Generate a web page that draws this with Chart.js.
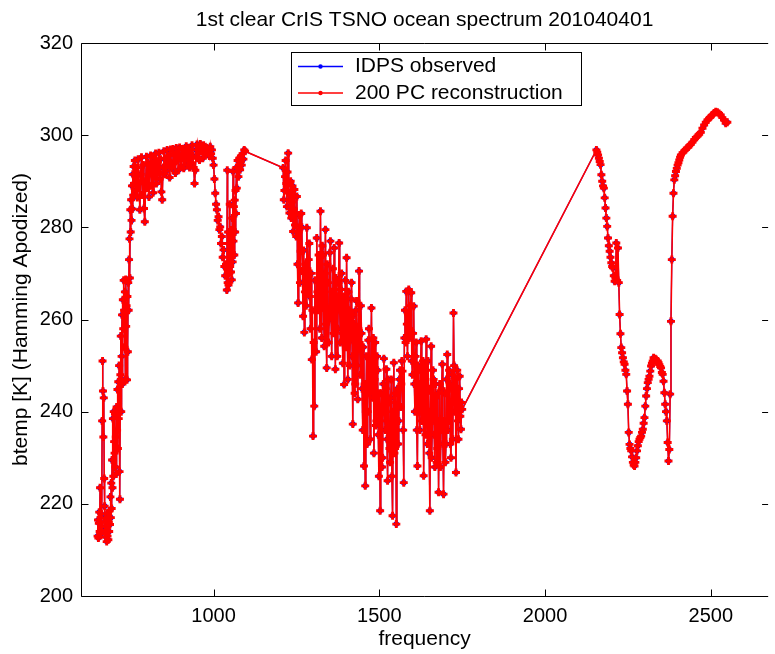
<!DOCTYPE html>
<html>
<head>
<meta charset="utf-8">
<script src="https://cdn.jsdelivr.net/npm/chart.js@4.4.0/dist/chart.umd.min.js"></script>
<style>
html, body { margin: 0; padding: 0; background: #fff; }
canvas { display: block; }
</style>
</head>
<body>
<canvas id="myCanvas" width="775" height="654"></canvas>
<script>
const CANVAS_WIDTH = 775;
const CANVAS_HEIGHT = 654;
const FONT = "'Liberation Sans', Arial, sans-serif";

// band 1 (longwave)
const band1Freq = [
  650, 651.3, 652.5, 653.8, 655, 656.3, 657.5, 658.8, 660, 661.3,
  662.5, 663.8, 665, 666.3, 667.5, 668.8, 670, 671.3, 672.5, 673.8,
  675, 676.3, 677.5, 678.8, 680, 681.3, 682.5, 683.8, 685, 686.3,
  687.5, 688.8, 690, 691.3, 692.5, 693.8, 695, 696.3, 697.5, 698.8,
  700, 701.3, 702.5, 703.8, 705, 706.3, 707.5, 708.8, 710, 711.3,
  712.5, 713.8, 715, 716.3, 717.5, 718.8, 720, 721.3, 722.5, 723.8,
  725, 726.3, 727.5, 728.8, 730, 731.3, 732.5, 733.8, 735, 736.3,
  737.5, 738.8, 740, 741.3, 742.5, 743.8, 745, 746.3, 747.5, 748.8,
  750, 751.3, 752.5, 753.8, 755, 756.3, 757.5, 758.8, 760,
  762.5, 765, 767.5, 770, 772.5, 775, 777.5, 780, 782.5, 785,
  787.5, 790, 792.5, 795, 797.5, 800, 802.5, 805, 807.5, 810,
  812.5, 815, 817.5, 820, 822.5, 825, 827.5, 830, 832.5, 835,
  837.5, 840, 842.5, 845, 847.5, 850, 852.5, 855, 857.5, 860,
  862.5, 865, 867.5, 870, 872.5, 875, 877.5, 880, 882.5, 885,
  887.5, 890, 892.5, 895, 897.5, 900, 902.5, 905, 907.5, 910,
  912.5, 915, 917.5, 920, 922.5, 925, 927.5, 930, 932.5, 935,
  937.5, 940, 942.5, 945, 947.5, 950, 952.5, 955, 957.5, 960,
  962.5, 965, 967.5, 970, 972.5, 975, 977.5, 980, 982.5, 985,
  987.5,
  990, 992.5, 995, 997.5, 1000, 1002.5, 1005, 1007.5, 1010, 1012.5,
  1015, 1017.5, 1020, 1022.5, 1025, 1027.5, 1030, 1032.5, 1035, 1037.5,
  1040, 1041.3, 1042.5, 1043.8, 1045, 1046.3, 1047.5, 1048.8, 1050, 1051.3,
  1052.5, 1053.8, 1055, 1056.3, 1057.5, 1058.8, 1060, 1061.3, 1062.5, 1063.8,
  1065, 1066.3, 1067.5, 1068.8, 1070, 1072.5, 1075, 1077.5, 1080, 1082.5,
  1085, 1087.5, 1090, 1092.5, 1095
];
const band1Temp = [
  213.0, 216.5, 212.6, 215.8, 218.2, 214.0, 223.5, 216.0, 213.5, 217.8,
  215.0, 238.0, 251.0, 244.5, 234.5, 243.0, 225.5, 219.5, 214.2, 217.0,
  212.8, 216.5, 211.8, 215.5, 213.0, 218.0, 212.2, 216.0, 214.0, 218.5,
  215.5, 221.5, 217.0, 224.5, 219.0, 229.5, 223.5, 238.5, 226.0, 240.0,
  233.5, 231.0, 239.5, 228.0, 234.5, 226.5, 241.0, 236.0, 244.8, 232.0,
  246.5, 238.5, 250.0, 227.0, 221.0, 248.0, 256.4, 240.0, 252.0, 261.0,
  246.0, 264.3, 258.0, 268.5, 262.0, 254.0, 266.0, 247.0, 268.7, 258.5,
  263.0, 246.9, 265.0, 253.0, 268.0, 262.0, 273.0, 277.5, 269.0, 283.8,
  279.0, 286.0, 281.5, 289.0, 284.0, 291.5, 287.0, 293.2, 289.5,
  294.5, 288.0, 293.0, 286.5, 294.8, 289.5, 283.8, 291.5, 295.2, 287.0,
  293.5, 284.1, 281.2, 290.0, 295.3, 288.5, 294.0, 286.6, 292.5, 295.6,
  289.0, 293.8, 287.5, 295.0, 291.0, 296.0, 289.5, 294.2, 292.0, 296.2,
  290.5, 294.8, 287.7, 286.0, 293.0, 296.5, 291.5, 295.0, 292.2, 296.8,
  293.5, 295.5, 290.8, 296.9, 294.0, 292.8, 297.0, 293.8, 295.8, 291.8,
  297.2, 294.5, 296.0, 292.5, 297.3, 295.0, 293.2, 297.0, 295.5, 292.8,
  296.5, 294.5, 297.6, 295.8, 293.5, 297.0, 293.0, 296.0, 294.0, 297.8,
  295.5, 293.0, 289.5, 292.4, 296.8, 298.0, 295.0, 297.5, 294.6, 298.1,
  296.5, 297.6, 295.0, 297.8, 296.2, 297.3, 295.8, 297.2, 296.5, 296.5,
  295.5,
  297.5, 296.0, 296.8, 295.0, 293.5, 290.5, 287.4, 285.0, 283.8, 281.5,
  282.3, 279.5, 280.1, 276.5, 278.0, 273.5, 275.1, 271.5, 269.5, 272.0,
  266.4, 292.4, 268.0, 279.0, 267.5, 276.5, 270.0, 285.0, 271.5, 274.4,
  270.3, 279.4, 268.6, 282.0, 272.5, 292.1, 277.0, 284.5, 274.0, 285.9,
  279.0, 288.0, 283.0, 293.0, 288.5, 294.5, 291.0, 295.0, 292.5, 295.5,
  293.5, 296.0, 294.8, 296.8, 296.5
];

// band 2 (midwave)
const band2Freq = [
  1210, 1211.9, 1213.8, 1215.6, 1217.5, 1219.4, 1221.3, 1223.1, 1225, 1226.9, 1228.8, 1230.6, 1232.5, 1234.4, 1236.3, 1238.1, 1240, 1241.9, 1243.8, 1245.6,
  1247.5, 1249.4, 1251.3, 1253.1, 1255, 1256.9, 1258.8, 1260.6, 1262.5, 1264.4, 1266.3, 1268.1, 1270, 1271.9, 1273.8, 1275.6, 1277.5, 1279.4, 1281.3, 1283.1,
  1285, 1286.9, 1288.8, 1290.6, 1292.5, 1294.4, 1296.3, 1298.1, 1300, 1301.9, 1303.8, 1305.6, 1307.5, 1309.4, 1311.3, 1313.1, 1315, 1316.9, 1318.8, 1320.6,
  1322.5, 1324.4, 1326.3, 1328.1, 1330, 1331.9, 1333.8, 1335.6, 1337.5, 1339.4, 1341.3, 1343.1, 1345, 1346.9, 1348.8, 1350.6, 1352.5, 1354.4, 1356.3, 1358.1,
  1360, 1361.9, 1363.8, 1365.6, 1367.5, 1369.4, 1371.3, 1373.1, 1375, 1376.9, 1378.8, 1380.6, 1382.5, 1384.4, 1386.3, 1388.1, 1390, 1391.9, 1393.8, 1395.6,
  1397.5, 1399.4, 1401.3, 1403.1, 1405, 1406.9, 1408.8, 1410.6, 1412.5, 1414.4, 1416.3, 1418.1, 1420, 1421.9, 1423.8, 1425.6, 1427.5, 1429.4, 1431.3, 1433.1,
  1435, 1436.9, 1438.8, 1440.6, 1442.5, 1444.4, 1446.3, 1448.1, 1450, 1451.9, 1453.8, 1455.6, 1457.5, 1459.4, 1461.3, 1463.1, 1465, 1466.9, 1468.8, 1470.6,
  1472.5, 1474.4, 1476.3, 1478.1, 1480, 1481.9, 1483.8, 1485.6, 1487.5, 1489.4, 1491.3, 1493.1, 1495, 1496.9, 1498.8, 1500.6, 1502.5, 1504.4, 1506.3, 1508.1,
  1510, 1511.9, 1513.8, 1515.6, 1517.5, 1519.4, 1521.3, 1523.1, 1525, 1526.9, 1528.8, 1530.6, 1532.5, 1534.4, 1536.3, 1538.1, 1540, 1541.9, 1543.8, 1545.6,
  1547.5, 1549.4, 1551.3, 1553.1, 1555, 1556.9, 1558.8, 1560.6, 1562.5, 1564.4, 1566.3, 1568.1, 1570, 1571.9, 1573.8, 1575.6, 1577.5, 1579.4, 1581.3, 1583.1,
  1585, 1586.9, 1588.8, 1590.6, 1592.5, 1594.4, 1596.3, 1598.1, 1600, 1601.9, 1603.8, 1605.6, 1607.5, 1609.4, 1611.3, 1613.1, 1615, 1616.9, 1618.8, 1620.6,
  1622.5, 1624.4, 1626.3, 1628.1, 1630, 1631.9, 1633.8, 1635.6, 1637.5, 1639.4, 1641.3, 1643.1, 1645, 1646.9, 1648.8, 1650.6, 1652.5, 1654.4, 1656.3, 1658.1,
  1660, 1661.9, 1663.8, 1665.6, 1667.5, 1669.4, 1671.3, 1673.1, 1675, 1676.9, 1678.8, 1680.6, 1682.5, 1684.4, 1686.3, 1688.1, 1690, 1691.9, 1693.8, 1695.6,
  1697.5, 1699.4, 1701.3, 1703.1, 1705, 1706.9, 1708.8, 1710.6, 1712.5, 1714.4, 1716.3, 1718.1, 1720, 1721.9, 1723.8, 1725.6, 1727.5, 1729.4, 1731.3, 1733.1,
  1735, 1736.9, 1738.8, 1740.6, 1742.5, 1744.4, 1746.3, 1748.1, 1750
];
const band2Temp = [
  292.9, 286.0, 288.0, 291.0, 294.5, 289.5, 284.5, 292.0, 296.1, 287.5, 283.1, 286.0, 290.0, 282.0, 285.5, 289.0, 279.1, 284.0, 288.2, 280.5,
  283.0, 278.0, 286.7, 272.0, 263.6, 279.0, 282.7, 268.0, 274.8, 283.0, 280.0, 270.5, 260.7, 275.0, 257.2, 266.0, 272.0, 263.0, 279.9, 271.0,
  266.0, 273.0, 276.5, 265.0, 258.0, 270.0, 251.3, 262.0, 234.7, 255.0, 241.2, 268.5, 262.0, 253.0, 277.7, 266.0, 262.0, 274.0, 270.0, 258.0,
  283.5, 265.0, 256.0, 276.0, 274.0, 262.5, 254.2, 270.0, 279.5, 259.0, 249.5, 272.0, 268.0, 255.0, 260.0, 274.5, 277.0, 261.0, 252.0, 266.0,
  271.0, 257.0, 275.5, 263.0, 249.2, 269.0, 265.0, 252.0, 258.0, 268.0, 276.6, 262.0, 255.0, 266.5, 270.0, 257.0, 250.5, 265.0, 245.9, 258.0,
  268.5, 254.0, 273.4, 259.0, 247.0, 266.0, 262.0, 250.0, 255.5, 264.5, 268.0, 252.0, 237.3, 261.0, 259.0, 244.0, 246.0, 262.0, 264.0, 250.0,
  242.7, 258.0, 270.5, 255.0, 248.0, 263.0, 257.0, 245.0, 236.0, 254.0, 228.2, 246.0, 223.9, 240.0, 252.0, 233.0, 240.0, 255.5, 258.0, 244.0,
  234.0, 251.0, 262.5, 246.0, 243.0, 256.0, 231.0, 247.0, 255.0, 237.0, 238.0, 252.0, 249.0, 235.0, 226.0, 244.0, 218.5, 238.0, 244.0, 228.0,
  230.0, 246.0, 251.5, 240.0, 236.0, 245.0, 249.2, 234.0, 225.0, 247.0, 242.0, 232.0, 229.0, 243.0, 247.0, 226.0, 217.4, 240.0, 250.6, 231.0,
  232.0, 244.0, 215.6, 236.0, 245.0, 233.0, 238.0, 247.0, 249.0, 241.0, 246.0, 251.0, 248.8, 236.0, 224.6, 256.0, 262.0, 255.0, 266.1, 259.0,
  252.0, 261.0, 266.5, 256.0, 258.0, 263.0, 265.8, 251.0, 248.0, 257.0, 262.9, 246.0, 240.0, 252.0, 255.0, 236.0, 228.2, 250.0, 246.0, 240.0,
  236.0, 249.0, 255.3, 238.0, 242.0, 251.0, 226.1, 241.0, 250.0, 235.0, 255.7, 244.0, 233.0, 251.0, 245.0, 231.0, 218.5, 240.0, 254.2, 230.0,
  238.0, 249.0, 247.0, 235.0, 228.0, 246.0, 243.0, 229.0, 232.0, 244.0, 222.5, 238.0, 246.0, 228.0, 236.0, 245.0, 250.3, 233.0, 222.1, 238.0,
  244.0, 229.0, 233.0, 247.0, 252.4, 236.0, 238.0, 249.0, 246.0, 233.0, 230.0, 245.0, 248.0, 234.0, 261.4, 250.0, 240.0, 247.0, 226.8, 243.0,
  249.0, 238.0, 234.0, 245.0, 247.7, 239.0, 236.2, 242.0, 240.5
];

// band 3 (shortwave)
const band3Freq = [
  2155, 2157.5, 2160, 2162.5, 2165, 2167.5, 2170, 2172.5, 2175, 2177.5,
  2180, 2182.5, 2185, 2187.5, 2190, 2192.5, 2195, 2197.5, 2200, 2202.5,
  2205, 2207.5, 2210, 2212.5, 2215, 2217.5, 2220, 2222.5, 2225, 2227.5,
  2230, 2232.5, 2235, 2237.5, 2240, 2242.5, 2245, 2247.5, 2250, 2252.5,
  2255, 2257.5, 2260, 2262.5, 2265, 2267.5, 2270, 2272.5, 2275, 2277.5,
  2280, 2282.5, 2285, 2287.5, 2290, 2292.5, 2295, 2297.5, 2300, 2302.5,
  2305, 2307.5, 2310, 2312.5, 2315, 2317.5, 2320, 2322.5, 2325, 2327.5,
  2330, 2332.5, 2335, 2337.5, 2340, 2342.5, 2345, 2347.5, 2350, 2352.5,
  2355, 2357.5, 2360, 2362.5, 2365, 2367.5, 2370, 2372.5, 2375, 2377.5,
  2380, 2382.5, 2385, 2387.5, 2390, 2392.5, 2395, 2397.5, 2400, 2402.5,
  2405, 2407.5, 2410,
  2415, 2420, 2425, 2430, 2435, 2440, 2445, 2450, 2455, 2460,
  2465, 2470, 2475, 2480, 2485, 2490, 2495, 2500, 2505, 2510,
  2515, 2520, 2525, 2530, 2535, 2540, 2545, 2550
];
const band3Temp = [
  296.8, 296.3, 295.7, 295.0, 294.3, 293.6, 291.4, 290.0, 289.0, 288.5,
  286.4, 284.2, 282.0, 280.2, 277.7, 276.0, 274.8, 273.5, 272.3, 271.5,
  271.2, 269.5, 268.3, 269.0, 276.6, 268.5, 275.5, 268.0, 261.1, 256.9,
  253.9, 252.8, 251.7, 250.8, 250.3, 249.0, 248.1, 244.5, 241.6, 235.5,
  232.9, 232.0, 231.5, 230.2, 229.0, 228.4, 228.2, 229.0, 230.0, 231.5,
  232.6, 233.5, 234.0, 234.4, 234.7, 235.5, 236.2, 237.5, 238.7, 241.2,
  243.4, 245.0, 246.3, 247.0, 247.7, 248.8, 249.9, 250.5, 251.0, 251.7,
  251.2, 251.5, 251.3, 250.8, 251.0, 250.6, 250.2, 249.8, 249.5, 248.5,
  248.1, 246.6, 244.1, 241.6, 240.0, 238.0, 233.3, 229.3, 231.8, 243.8,
  259.6, 273.0, 282.4, 287.4, 290.3, 291.2, 292.1, 292.8, 293.5, 294.0,
  294.6, 295.2, 295.7,
  296.2, 296.6, 296.9, 297.3, 297.7, 298.0, 298.5, 299.0, 299.5, 299.8,
  300.2, 300.6, 301.5, 302.2, 302.8, 303.3, 303.7, 304.0, 304.4, 304.8,
  305.1, 305.0, 304.7, 304.4, 303.8, 303.3, 302.6, 302.8
];

const xTicks = [1000, 1500, 2000, 2500];
const yTicks = [200, 220, 240, 260, 280, 300, 320];
const seriesNames = ["IDPS observed", "200 PC reconstruction"];

var freq = band1Freq.concat(band2Freq, band3Freq);
var idps = band1Temp.concat(band2Temp, band3Temp);
// the reconstruction sits on the observed curve to within a pixel
var recon = idps;

function make_points(xs, ys){
	var pts = [];
	for (var i = 0; i < xs.length; i++){
		pts.push({x: xs[i], y: ys[i]});
	}
	return pts;
}

// box, inward ticks and legend (matlab look)
var frame_plugin = {
	id: 'frame',
	afterDraw: function(chart){
		var ctx = chart.ctx;
		var a = chart.chartArea;
		var sx = chart.scales.x, sy = chart.scales.y;
		var L = Math.round(a.left) + 0.5, T = Math.round(a.top) + 0.5, B = Math.round(a.bottom) + 0.5, R = a.right;
		ctx.save();
		ctx.strokeStyle = "#000";
		ctx.lineWidth = 1;
		ctx.beginPath();
		ctx.moveTo(R, T); ctx.lineTo(L, T); ctx.lineTo(L, B); ctx.lineTo(R, B);
		xTicks.forEach(function(v){
			var px = Math.round(sx.getPixelForValue(v)) + 0.5;
			ctx.moveTo(px, B); ctx.lineTo(px, B - 7);
			ctx.moveTo(px, T); ctx.lineTo(px, T + 7);
		});
		yTicks.forEach(function(v){
			var py = Math.round(sy.getPixelForValue(v)) + 0.5;
			ctx.moveTo(L, py); ctx.lineTo(L + 7, py);
			ctx.moveTo(R - 6, py); ctx.lineTo(R, py);
		});
		ctx.stroke();

		// legend
		ctx.fillStyle = "#fff";
		ctx.fillRect(292, 53, 289, 52);
		ctx.strokeRect(291.5, 52.5, 290, 53);
		var rows = [66.5, 93];
		var ds = chart.data.datasets;
		for (var i = 0; i < 2; i++){
			var y = rows[i];
			ctx.strokeStyle = ds[i].borderColor;
			ctx.lineWidth = 1.3;
			ctx.beginPath(); ctx.moveTo(298, y); ctx.lineTo(343, y); ctx.stroke();
			ctx.fillStyle = ds[i].borderColor;
			ctx.beginPath(); ctx.arc(320.5, y, 2.2, 0, Math.PI * 2); ctx.fill();
			ctx.fillStyle = "#000";
			ctx.font = "21px " + FONT;
			ctx.textBaseline = "middle";
			ctx.textAlign = "left";
			ctx.fillText(seriesNames[i], 355, y);
		}
		ctx.restore();
	}
};

var ctx = document.getElementById("myCanvas").getContext("2d");
var chart = new Chart(ctx, {
	type: 'line',
	data: {
		datasets: [{
			label: seriesNames[0],
			data: make_points(freq, idps),
			borderColor: "#0000ff",
			borderWidth: 1.2,
			pointStyle: 'circle',
			pointRadius: 2.8,
			pointBackgroundColor: "#0000ff",
			pointBorderWidth: 0,
			order: 2
		}, {
			label: seriesNames[1],
			data: make_points(freq, recon),
			borderColor: "#ff0000",
			borderWidth: 1.6,
			pointStyle: 'cross',
			pointRadius: 4,
			pointBorderColor: "#ff0000",
			pointBorderWidth: 2.9,
			order: 1
		}]
	},
	options: {
		responsive: false,
		animation: false,
		devicePixelRatio: 1,
		layout: { padding: 0 },
		plugins: {
			legend: { display: false },
			tooltip: { enabled: false },
			title: {
				display: true,
				fullSize: false,
				text: "1st clear CrIS TSNO ocean spectrum 201040401",
				color: "#000",
				font: { family: FONT, size: 21, weight: 'normal', lineHeight: 1.2 },
				padding: { top: 8, bottom: 9.8 }
			}
		},
		scales: {
			x: {
				type: 'linear',
				min: 600,
				max: 2673,
				grid: { display: false, drawTicks: false },
				border: { display: false },
				ticks: { color: "#000", font: { family: FONT, size: 20 }, padding: 8, maxRotation: 0,
					callback: function(v){ return String(v); } },
				afterBuildTicks: function(s){ s.ticks = xTicks.map(function(v){ return {value: v}; }); },
				afterFit: function(s){ s.height = CANVAS_HEIGHT - 596; },
				title: { display: true, text: "frequency", color: "#000", font: { family: FONT, size: 21, lineHeight: 1.2 }, padding: { top: 0, bottom: 2 } }
			},
			y: {
				min: 200,
				max: 320,
				grid: { display: false, drawTicks: false },
				border: { display: false },
				ticks: { color: "#000", font: { family: FONT, size: 20 }, padding: 8,
					callback: function(v){ return String(v); } },
				afterBuildTicks: function(s){ s.ticks = yTicks.map(function(v){ return {value: v}; }); },
				afterFit: function(s){ s.width = 81; },
				title: { display: true, text: "btemp [K] (Hamming Apodized)", color: "#000", font: { family: FONT, size: 21, lineHeight: 1.2 }, padding: { top: 9, bottom: 0 } }
			}
		}
	},
	plugins: [frame_plugin]
});
</script>
</body>
</html>
